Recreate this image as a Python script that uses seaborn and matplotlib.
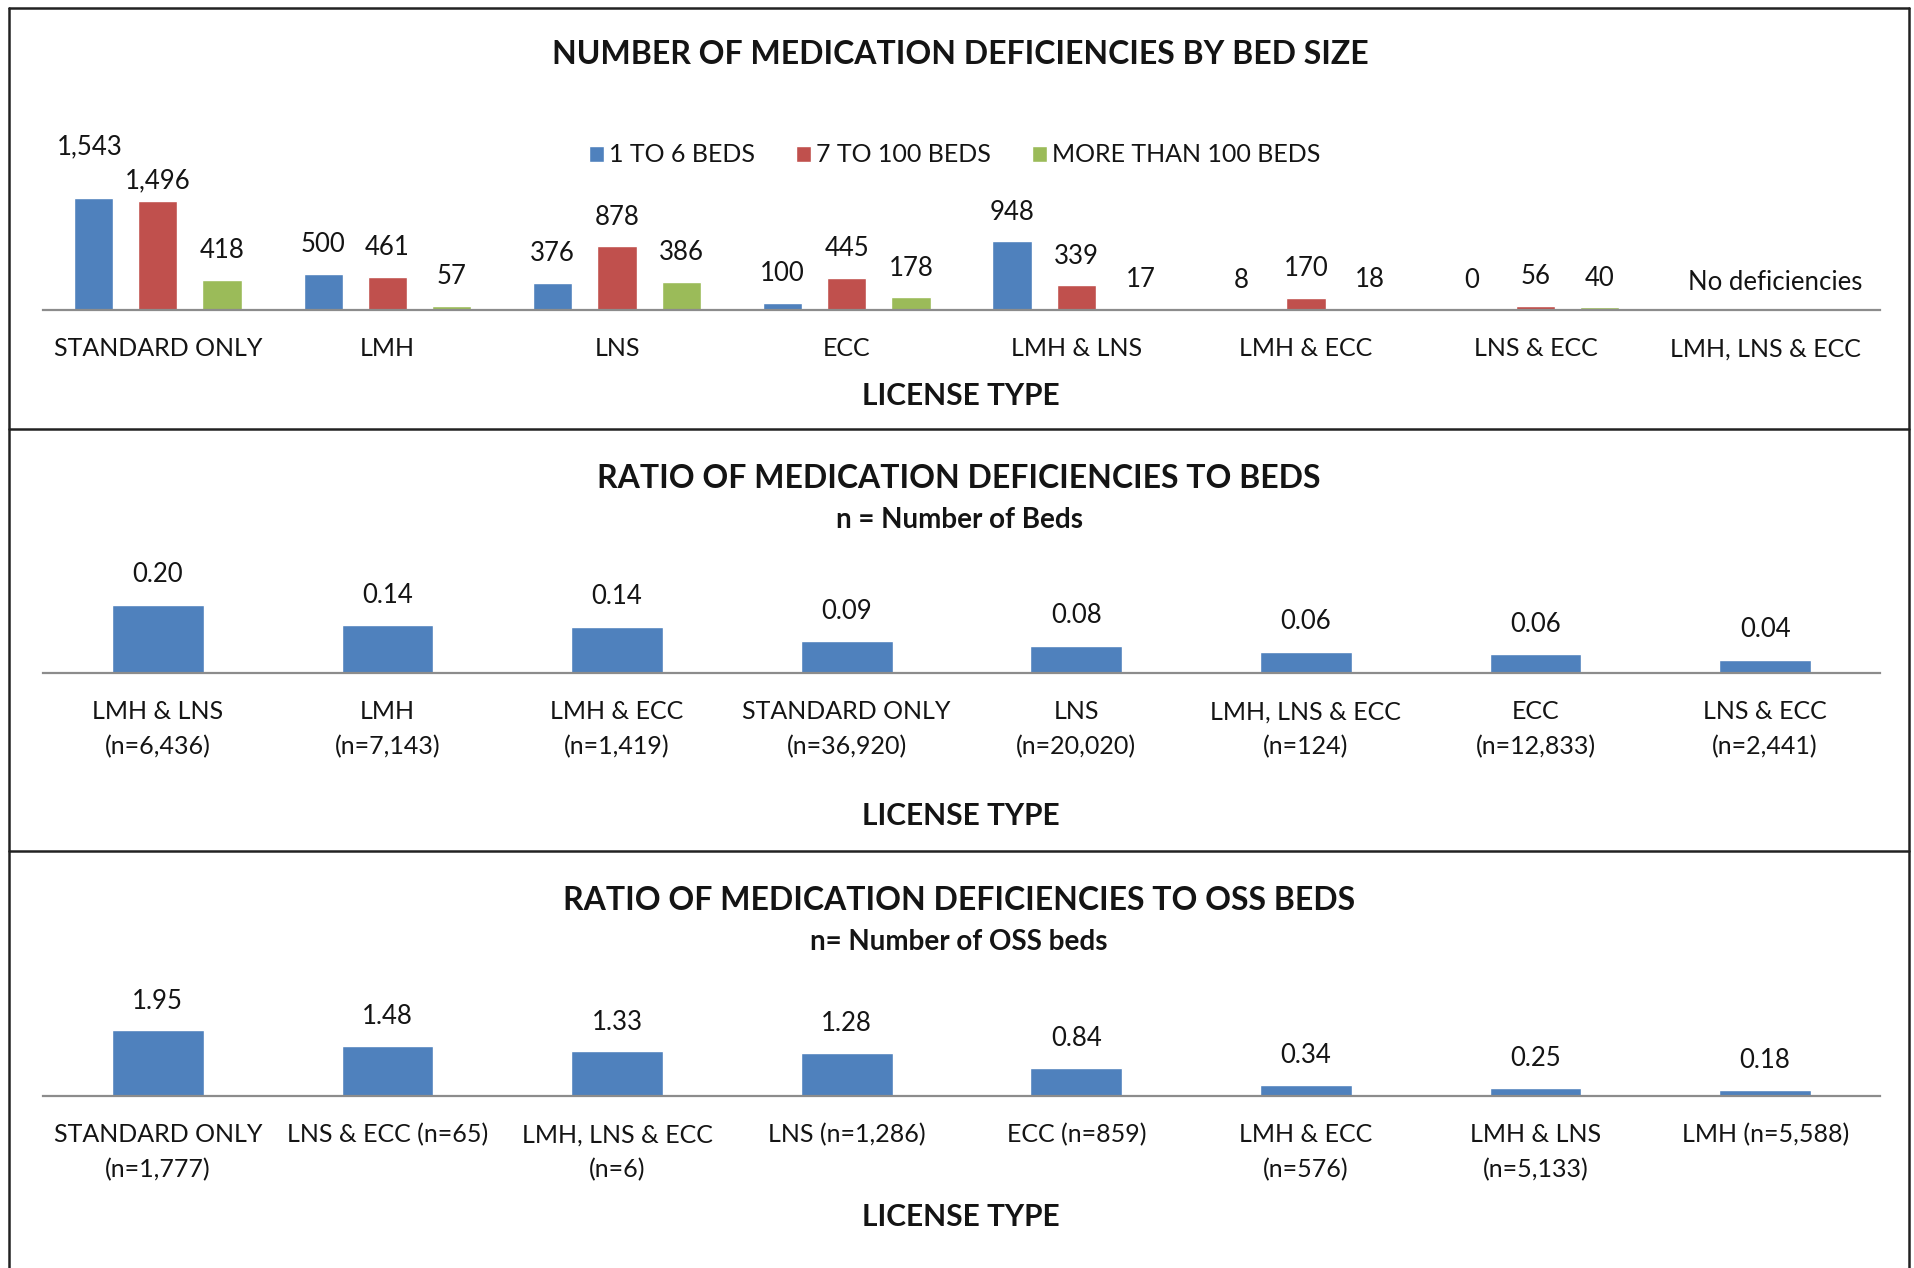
import numpy as np
import pandas as pd
import matplotlib
matplotlib.use("Agg")
import matplotlib.pyplot as plt
from matplotlib.lines import Line2D
import seaborn as sns

# ---- data -------------------------------------------------------------
license_types = ["STANDARD ONLY", "LMH", "LNS", "ECC", "LMH & LNS",
                 "LMH & ECC", "LNS & ECC", "LMH, LNS & ECC"]
bed_sizes = ["1 TO 6 BEDS", "7 TO 100 BEDS", "MORE THAN 100 BEDS"]
small_counts = [1543, 500, 376, 100, 948, 8, 0, np.nan]
medium_counts = [1496, 461, 878, 445, 339, 170, 56, np.nan]
large_counts = [418, 57, 386, 178, 17, 18, 40, np.nan]

bed_ratio_labels = ["LMH & LNS\n(n=6,436)", "LMH\n(n=7,143)", "LMH & ECC\n(n=1,419)",
                    "STANDARD ONLY\n(n=36,920)", "LNS\n(n=20,020)",
                    "LMH, LNS & ECC\n(n=124)", "ECC\n(n=12,833)", "LNS & ECC\n(n=2,441)"]
bed_ratios = [0.203, 0.143, 0.138, 0.094, 0.082, 0.064, 0.056, 0.039]

oss_ratio_labels = ["STANDARD ONLY\n(n=1,777)", "LNS & ECC (n=65)", "LMH, LNS & ECC\n(n=6)",
                    "LNS (n=1,286)", "ECC (n=859)", "LMH & ECC\n(n=576)",
                    "LMH & LNS\n(n=5,133)", "LMH (n=5,588)"]
oss_ratios = [1.95, 1.48, 1.33, 1.28, 0.84, 0.34, 0.25, 0.18]

# ---- style ------------------------------------------------------------
sns.set_style("white")
plt.rcParams["font.family"] = ["Lato", "DejaVu Sans"]
BLUE, RED, GREEN = "#4F81BD", "#C0504D", "#9BBB59"
AXIS_GRAY = "#8C8C8C"
TEXT = "#141414"
TICK_FS = 18
VALUE_FS = 18.5
LEGEND_FS = 18
TITLE_FS = 23
AXLABEL_FS = 21.5
SUB_FS = 20

W, H = 1915, 1268
fig = plt.figure(figsize=(W / 100, H / 100), dpi=100)
fig.patch.set_facecolor("white")


def fx(px):
    return px / W


def fy(px):
    return 1 - px / H


def panel_axes(axis_px, top_px, x0=43, x1=1880):
    return fig.add_axes([fx(x0), fy(axis_px), (x1 - x0) / W, (axis_px - top_px) / H])


def style_axis(ax, ymax, pad):
    ax.set_xlim(-0.5, 7.5)
    ax.set_ylim(0, ymax)
    ax.set_yticks([])
    ax.set_xlabel("")
    ax.set_ylabel("")
    for side in ("left", "top", "right"):
        ax.spines[side].set_visible(False)
    ax.spines["bottom"].set_color(AXIS_GRAY)
    ax.spines["bottom"].set_linewidth(1.6)
    ax.set_xticks(np.arange(-0.5, 8, 1), minor=True)
    ax.tick_params(axis="x", which="minor", length=7, width=1.4, color=AXIS_GRAY,
                   direction="out")
    ax.tick_params(axis="x", which="major", length=0, pad=pad, labelsize=TICK_FS,
                   labelcolor=TEXT)
    for lab in ax.get_xticklabels():
        lab.set_linespacing(1.62)
    ax.patch.set_alpha(0)


def label_bars(ax, fmt, dy, nudges=None):
    nudges = nudges or {}
    for ci, cont in enumerate(ax.containers):
        for bar in cont:
            h = bar.get_height()
            if h is None or np.isnan(h):
                continue
            xc = bar.get_x() + bar.get_width() / 2
            cat = int(round(xc))
            ndx, ndy = nudges.get((ci, cat), (0, 0))
            ax.annotate(fmt(h), (xc, h), xytext=(ndx, dy + ndy),
                        textcoords="offset pixels", ha="center", va="center",
                        fontsize=VALUE_FS, color=TEXT)


# ---- panel 1: deficiency counts by bed size ---------------------------
counts_df = pd.DataFrame({
    "license": license_types * 3,
    "size": np.repeat(bed_sizes, len(license_types)),
    "count": small_counts + medium_counts + large_counts,
})
ax1 = panel_axes(310, 160)
sns.barplot(data=counts_df, x="license", y="count", hue="size",
            order=license_types, hue_order=bed_sizes,
            palette=[BLUE, RED, GREEN], errorbar=None, width=0.84, gap=0.39,
            saturation=1, ax=ax1)
style_axis(ax1, 2066, 19.5)
label_bars(ax1, lambda v: f"{v:,.0f}", 29,
           nudges={(0, 0): (-4, 22), (1, 0): (0, -8)})
ax1.annotate("No deficiencies", (7, 0), xytext=(10, 28), textcoords="offset pixels",
             ha="center", va="center", fontsize=VALUE_FS, color=TEXT)
sns.move_legend(ax1, "center", bbox_to_anchor=((955 - 43) / 1837, (310 - 155) / 150),
                ncol=3, frameon=False, title=None, fontsize=LEGEND_FS,
                handlelength=0.6, handleheight=0.6, handletextpad=0.2,
                columnspacing=1.65, labelcolor=TEXT)

# ---- panel 2: ratio to all beds ----------------------------------------
ratio_df = pd.DataFrame({"license": bed_ratio_labels, "ratio": bed_ratios})
ax2 = panel_axes(673, 560)
sns.barplot(data=ratio_df, x="license", y="ratio", order=bed_ratio_labels,
            color=BLUE, saturation=1, errorbar=None, width=0.4, ax=ax2)
style_axis(ax2, 0.337, 19.5)
label_bars(ax2, lambda v: f"{v:.2f}", 30)

# ---- panel 3: ratio to OSS beds ----------------------------------------
oss_df = pd.DataFrame({"license": oss_ratio_labels, "ratio": oss_ratios})
ax3 = panel_axes(1096, 980)
sns.barplot(data=oss_df, x="license", y="ratio", order=oss_ratio_labels,
            color=BLUE, saturation=1, errorbar=None, width=0.4, ax=ax3)
style_axis(ax3, 3.43, 19.5)
label_bars(ax3, lambda v: f"{v:.2f}", 29)

# ---- titles -------------------------------------------------------------
def ftext(xp, yp, s, size, bold=False):
    fig.text(fx(xp), fy(yp), s, ha="center", va="center", fontsize=size,
             fontweight="bold" if bold else "normal", color=TEXT)


ftext(960, 55, "NUMBER OF MEDICATION DEFICIENCIES BY BED SIZE", TITLE_FS, True)
ftext(961, 396, "LICENSE TYPE", AXLABEL_FS, True)
ftext(959, 478, "RATIO OF MEDICATION DEFICIENCIES TO BEDS", TITLE_FS, True)
ftext(959, 520, "n = Number of Beds", SUB_FS, True)
ftext(961, 816, "LICENSE TYPE", AXLABEL_FS, True)
ftext(959, 900, "RATIO OF MEDICATION DEFICIENCIES TO OSS BEDS", TITLE_FS, True)
ftext(959, 942, "n= Number of OSS beds", SUB_FS, True)
ftext(961, 1217, "LICENSE TYPE", AXLABEL_FS, True)

# ---- panel frames -------------------------------------------------------
frame_kw = dict(transform=fig.transFigure, color="#222222", lw=1.8)
fig.add_artist(Line2D([fx(9), fx(9)], [fy(8), fy(1280)], **frame_kw))
fig.add_artist(Line2D([fx(1909), fx(1909)], [fy(8), fy(1280)], **frame_kw))
fig.add_artist(Line2D([fx(9), fx(1909)], [fy(8), fy(8)], **frame_kw))
fig.add_artist(Line2D([fx(9), fx(1909)], [fy(429), fy(429)], **frame_kw))
fig.add_artist(Line2D([fx(9), fx(1909)], [fy(851), fy(851)], **frame_kw))

fig.savefig("out.png", dpi=100, facecolor="white")
